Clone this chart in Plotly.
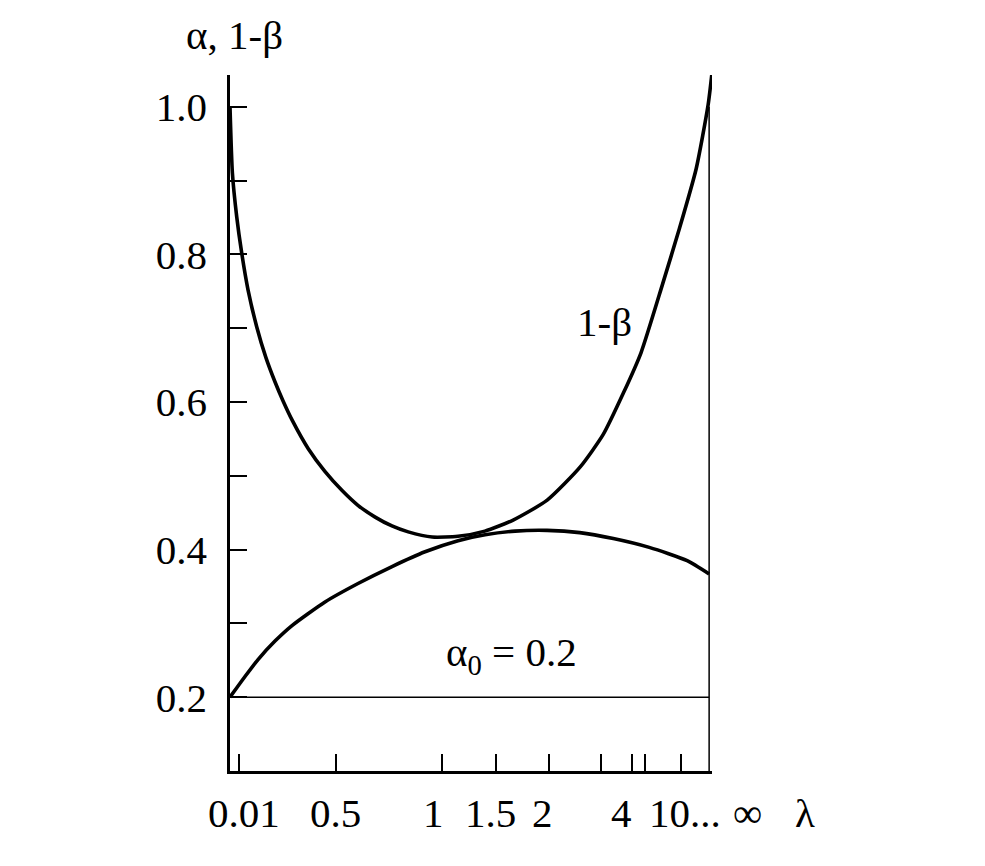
import plotly.graph_objects as go

# Schematic λ axis: position 0 corresponds to λ→0, position 100 to λ→∞
power_pos = [0, 0.5, 1.4, 2.44, 3.76, 5.57, 7.5, 9.4, 11.1, 13.0, 16.3, 19.8, 23.4,
             26.7, 30.3, 33.8, 37.2, 42.2, 47.6, 53.2, 59.1, 66.2, 73.1, 77.9, 82.1,
             85.8, 90.3, 93.8, 97.3, 99.8, 100.6]
power_val = [1.0, 0.91, 0.851, 0.802, 0.752, 0.702, 0.66, 0.627, 0.601, 0.575, 0.537,
             0.506, 0.480, 0.46, 0.444, 0.432, 0.424, 0.417, 0.418, 0.425, 0.44, 0.467,
             0.512, 0.556, 0.612, 0.667, 0.760, 0.835, 0.916, 1.003, 1.046]

alpha_pos = [0, 3.13, 5.85, 9.39, 12.94, 19.83, 26.72, 33.82, 40.71, 47.6, 53.24,
             59.5, 66.18, 73.0, 80.0, 87.5, 95.41, 100]
alpha_val = [0.2, 0.228, 0.251, 0.276, 0.297, 0.329, 0.354, 0.377, 0.397, 0.412, 0.42,
             0.425, 0.426, 0.423, 0.415, 0.403, 0.385, 0.367]

alpha0 = 0.2
alpha0_span = [0, 100]

# λ axis ticks (unlabelled marks) and labels (in λ-axis position units)
lam_tick_pos = [1.88, 22.1, 44.2, 55.5, 66.6, 77.5, 83.9, 86.6, 94.1]
lam_label_text = ["0.01", "0.5", "1", "1.5", "2", "4", "10...", "∞", "λ"]
lam_label_pos = [2.9, 22.1, 42.4, 54.3, 65.3, 81.8, 95.0, 108.1, 120.0]

y_tick_vals = [0.2, 0.3, 0.4, 0.5, 0.6, 0.7, 0.8, 0.9, 1.0]
y_tick_text = ["0.2", "", "0.4", "", "0.6", "", "0.8", "", "1.0"]

X_RANGE = [0, 100.6]
Y_RANGE = [0.1, 1.043]

FONT = "Liberation Serif, Times New Roman, serif"
FS = 41


def xpaper(pos):
    return (pos - X_RANGE[0]) / (X_RANGE[1] - X_RANGE[0])


fig = go.Figure()
fig.add_trace(go.Scatter(x=alpha0_span, y=[alpha0, alpha0], mode="lines",
                         line=dict(color="black", width=1.5), hoverinfo="skip"))
fig.add_trace(go.Scatter(x=alpha_pos, y=alpha_val, mode="lines",
                         line=dict(color="black", width=3.6, shape="spline", smoothing=0.6)))
fig.add_trace(go.Scatter(x=power_pos, y=power_val, mode="lines",
                         line=dict(color="black", width=3.6, shape="spline", smoothing=0.6),
                         cliponaxis=False))

# right boundary (λ = ∞)
fig.add_shape(type="line", x0=100, x1=100, y0=Y_RANGE[0], y1=1.0, xref="x", yref="y",
              line=dict(color="black", width=1.5))

for txt, pos in zip(lam_label_text, lam_label_pos):
    fig.add_annotation(x=xpaper(pos), y=-0.061, xref="paper", yref="paper", text=txt,
                       showarrow=False, font=dict(family=FONT, size=FS, color="black"),
                       xanchor="center", yanchor="middle")

fig.add_annotation(x=xpaper(1.0), y=1.058, xref="paper", yref="paper", text="α, 1-β",
                   showarrow=False, font=dict(family=FONT, size=FS, color="black"),
                   xanchor="center", yanchor="middle")
fig.add_annotation(x=78.1, y=0.708, xref="x", yref="y", text="1-β", showarrow=False,
                   font=dict(family=FONT, size=FS, color="black"),
                   xanchor="center", yanchor="middle")
fig.add_annotation(x=58.7, y=0.257, xref="x", yref="y",
                   text="α<sub>0</sub> = 0.2", showarrow=False,
                   font=dict(family=FONT, size=FS, color="black"),
                   xanchor="center", yanchor="middle")

fig.update_layout(
    width=985, height=866,
    margin=dict(l=222, r=281, t=67, b=103),
    paper_bgcolor="white", plot_bgcolor="white",
    showlegend=False,
    font=dict(family=FONT, size=FS, color="black"),
    xaxis=dict(range=X_RANGE, showgrid=False, zeroline=False,
               showline=True, linecolor="black", linewidth=2.5,
               tickmode="array", tickvals=lam_tick_pos, ticks="inside",
               ticklen=17, tickwidth=1.5, tickcolor="black",
               showticklabels=False),
    yaxis=dict(range=Y_RANGE, showgrid=False, zeroline=False,
               showline=True, linecolor="black", linewidth=2.5,
               tickmode="array", tickvals=y_tick_vals, ticktext=y_tick_text,
               ticks="inside", ticklen=17, tickwidth=1.5, tickcolor="black",
               ticklabelstandoff=12,
               tickfont=dict(family=FONT, size=FS, color="black")),
)

fig.write_html("out.html")
